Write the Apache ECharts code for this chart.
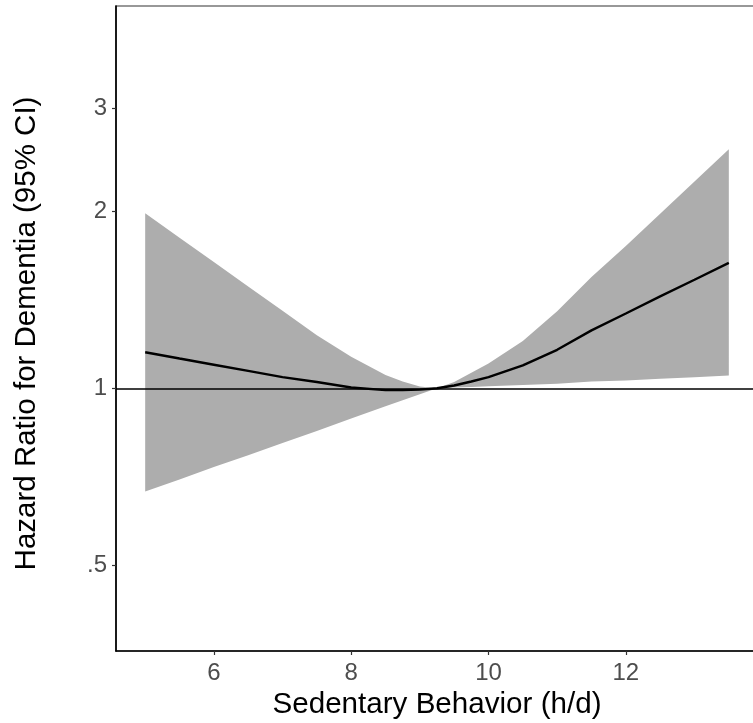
<!DOCTYPE html>
<html>
<head>
<meta charset="utf-8">
<script src="https://cdn.jsdelivr.net/npm/echarts@6/dist/echarts.min.js"></script>
<style>
  html, body { margin: 0; padding: 0; background: #fff; }
  #chart { width: 753px; height: 723px; }
</style>
</head>
<body>
<div id="chart"></div>
<script>
// Sedentary time (h/d) and the estimated hazard ratio with its 95% CI
const sedentaryHours = [5, 5.5, 6, 6.5, 7, 7.5, 8, 8.5, 8.75, 9, 9.25, 9.5, 9.75, 10, 10.5, 11, 11.5, 12, 12.5, 13, 13.5];
const hazardRatio = [1.152, 1.124, 1.097, 1.071, 1.045, 1.025, 1.003, 0.993, 0.993, 0.995, 1.0, 1.011, 1.027, 1.045, 1.094, 1.163, 1.255, 1.341, 1.434, 1.531, 1.636];
const ciLower = [0.667, 0.699, 0.734, 0.769, 0.807, 0.846, 0.888, 0.932, 0.954, 0.977, 1.0, 1.003, 1.005, 1.008, 1.013, 1.018, 1.027, 1.031, 1.038, 1.044, 1.051];
const ciUpper = [1.987, 1.805, 1.641, 1.491, 1.355, 1.231, 1.132, 1.054, 1.027, 1.007, 1.0, 1.025, 1.063, 1.102, 1.204, 1.353, 1.547, 1.748, 1.984, 2.251, 2.554];

// Axis ticks
const xTicks = [6, 8, 10, 12];
const yTickValues = [0.5, 1, 2, 3];
const yTickLabels = ['.5', '1', '2', '3'];

// The vertical axis is a log2 scale of the hazard ratio
const toLog = v => Math.log2(v);
const yTickPositions = yTickValues.map(toLog);

const FONT = '"Liberation Sans", Arial, Helvetica, sans-serif';

const hrData = sedentaryHours.map((x, i) => [x, toLog(hazardRatio[i])]);

// Confidence band: upper edge left-to-right, then lower edge back, as one polygon
function renderBand(params, api) {
  if (params.dataIndex !== 0) return null;
  const upper = sedentaryHours.map((x, i) => api.coord([x, toLog(ciUpper[i])]));
  const lower = sedentaryHours.map((x, i) => api.coord([x, toLog(ciLower[i])])).reverse();
  return {
    type: 'polygon',
    shape: { points: upper.concat(lower) },
    style: { fill: '#adadad', stroke: null },
    silent: true
  };
}

const chart = echarts.init(document.getElementById('chart'), null, { renderer: 'canvas' });

chart.setOption({
  animation: false,
  backgroundColor: '#ffffff',
  textStyle: { fontFamily: FONT },
  grid: {
    left: 116, top: 6, right: -5, bottom: 72,
    outerBoundsMode: 'none',
    containLabel: false,
    show: true, borderColor: '#333333', borderWidth: 1.2, backgroundColor: 'transparent'
  },
  xAxis: {
    type: 'value',
    min: 4.575,
    max: 13.925,
    axisLine: { show: true, onZero: false, lineStyle: { color: '#000000', width: 1.6 } },
    axisTick: { show: true, customValues: xTicks, length: 4, lineStyle: { color: '#333333', width: 1.2 } },
    axisLabel: { customValues: xTicks, color: '#4d4d4d', fontSize: 24, margin: 10, fontFamily: FONT },
    splitLine: { show: false },
    name: 'Sedentary Behavior (h/d)',
    nameLocation: 'middle',
    nameGap: 35,
    nameTextStyle: { color: '#000000', fontSize: 29.6, fontFamily: FONT }
  },
  yAxis: {
    type: 'value',
    min: -1.487,
    max: 2.164,
    axisLine: { show: true, onZero: false, lineStyle: { color: '#000000', width: 1.6 } },
    axisTick: { show: true, customValues: yTickPositions, length: 4, lineStyle: { color: '#333333', width: 1.2 } },
    axisLabel: {
      customValues: yTickPositions,
      color: '#4d4d4d',
      fontSize: 24,
      margin: 9,
      fontFamily: FONT,
      formatter: v => {
        const i = yTickPositions.findIndex(p => Math.abs(p - v) < 1e-6);
        return i >= 0 ? yTickLabels[i] : '';
      }
    },
    splitLine: { show: false },
    name: 'Hazard Ratio for Dementia (95% CI)',
    nameLocation: 'middle',
    nameRotate: 90,
    nameGap: 74,
    nameTextStyle: { color: '#000000', fontSize: 29.5, fontFamily: FONT, padding: [0, 10, 0, 0] }
  },
  series: [
    {
      name: '95% CI',
      type: 'custom',
      renderItem: renderBand,
      data: [[sedentaryHours[0], toLog(ciLower[0])]],
      silent: true,
      z: 1
    },
    {
      name: 'Hazard ratio',
      type: 'line',
      data: hrData,
      symbol: 'none',
      silent: true,
      lineStyle: { color: '#000000', width: 2.4 },
      markLine: {
        silent: true,
        symbol: 'none',
        label: { show: false },
        lineStyle: { color: '#000000', width: 1.6, type: 'solid' },
        data: [{ yAxis: toLog(1) }]
      },
      z: 3
    }
  ]
});
</script>
</body>
</html>
